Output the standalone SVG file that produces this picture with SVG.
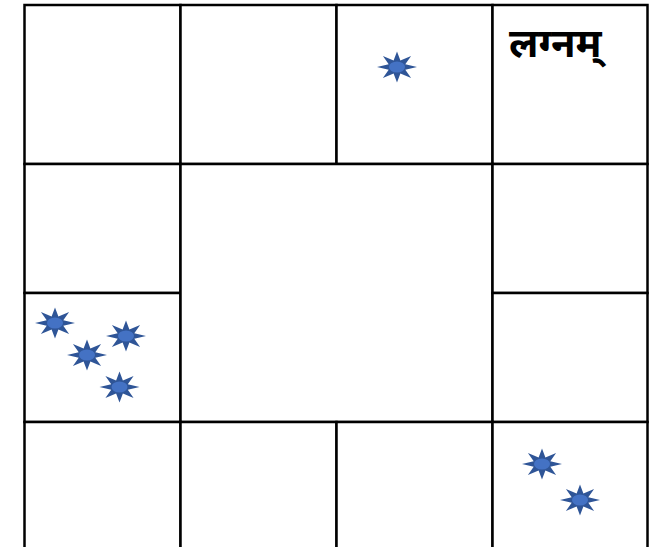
<svg xmlns="http://www.w3.org/2000/svg" width="654" height="547" viewBox="0 0 654 547">
<style>
.cell{fill:#fff;stroke:#000;stroke-width:2.5}
.star{fill:#2F5597}
.core{fill:#4472C4}
.lbl{font-family:"Noto Sans Devanagari","Noto Sans","Lohit Devanagari","FreeSans",sans-serif;font-size:40px;font-weight:bold;fill:#000}
</style>
<defs>
<g id="starShape">
<path class="star" d="M20,0 L8.3,2.7 L14.1,11 L3.4,6.4 L0,15.5 L-3.4,6.4 L-14.1,11 L-8.3,2.7 L-20,0 L-8.3,-2.7 L-14.1,-11 L-3.4,-6.4 L0,-15.5 L3.4,-6.4 L14.1,-11 L8.3,-2.7 Z"/>
<ellipse class="core" cx="0" cy="0" rx="8" ry="5.5"/>
</g>
</defs>
<g id="cells">
<g id="c1"><rect class="cell" x="24.5" y="5" width="156" height="159"/></g>
<g id="c2"><rect class="cell" x="180.5" y="5" width="156" height="159"/></g>
<g id="c3"><rect class="cell" x="336.5" y="5" width="156" height="159"/>
<use href="#starShape" transform="translate(397,67)"/></g>
<g id="c4"><rect class="cell" x="492.5" y="5" width="155" height="159"/>
<text class="lbl" x="509" y="57">लग्नम्</text></g>
<g id="c5"><rect class="cell" x="24.5" y="164" width="156" height="129"/></g>
<g id="c6"><rect class="cell" x="24.5" y="293" width="156" height="129"/>
<use href="#starShape" transform="translate(55,323)"/>
<use href="#starShape" transform="translate(87,355)"/>
<use href="#starShape" transform="translate(126,336)"/>
<use href="#starShape" transform="translate(119.5,387)"/></g>
<g id="center"><rect class="cell" x="180.5" y="164" width="312" height="258"/></g>
<g id="c7"><rect class="cell" x="492.5" y="164" width="155" height="129"/></g>
<g id="c8"><rect class="cell" x="492.5" y="293" width="155" height="129"/></g>
<g id="c9"><rect class="cell" x="24.5" y="422" width="156" height="140"/></g>
<g id="c10"><rect class="cell" x="180.5" y="422" width="156" height="140"/></g>
<g id="c11"><rect class="cell" x="336.5" y="422" width="156" height="140"/></g>
<g id="c12"><rect class="cell" x="492.5" y="422" width="155" height="140"/>
<use href="#starShape" transform="translate(542,464)"/>
<use href="#starShape" transform="translate(580,500)"/></g>
</g>
<g id="connectors"></g>
</svg>
